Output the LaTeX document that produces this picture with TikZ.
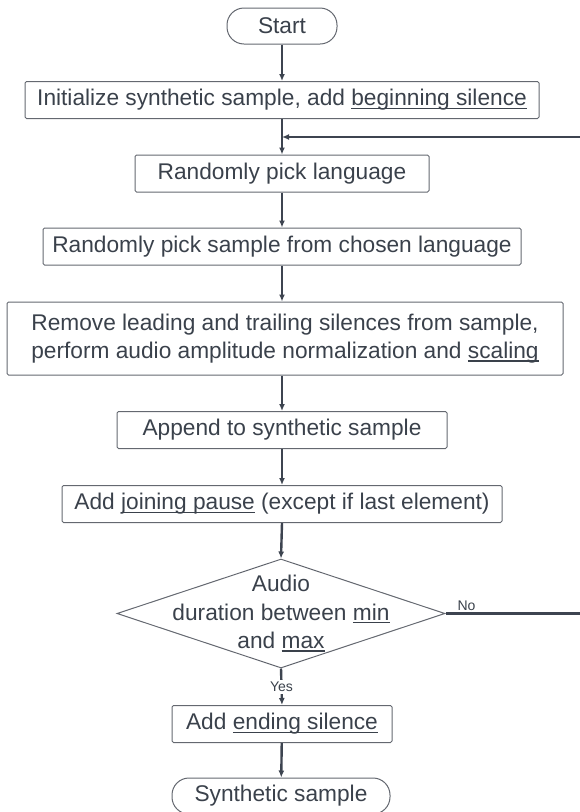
\documentclass[tikz,border=0pt]{standalone}
\usepackage{fontspec}
\setmainfont{Liberation Sans}
\usepackage{xcolor}
\usetikzlibrary{arrows.meta, positioning, calc, shapes.geometric}

\definecolor{inkText}{HTML}{3A414B}
\definecolor{inkLine}{HTML}{3D4450}
\definecolor{inkFrame}{HTML}{646870}

% underline that sits just below the baseline
\newcommand{\undl}[1]{\setbox0\hbox{#1}\rlap{\color{inkText}\rule[-3pt]{\wd0}{1.3pt}}\box0\relax}

\begin{document}
\begin{tikzpicture}[
  x=1pt, y=-1pt,
  box/.style={
    rectangle,
    rounded corners=1.5pt,
    draw=inkFrame,
    line width=1pt,
    align=center,
    inner sep=0pt,
    minimum height=37pt,
    text=inkText,
    font=\fontsize{22.7}{28.5}\selectfont
  },
  term/.style={
    box,
    rounded corners=17pt,
    minimum height=36pt
  },
  decision/.style={
    diamond,
    draw=inkFrame,
    line width=1pt,
    inner sep=0pt
  },
  lbl/.style={
    text=inkText,
    inner sep=2pt,
    font=\fontsize{14}{16}\selectfont
  },
  arrow/.style={
    -{Latex[length=7pt,width=6pt]},
    draw=inkLine,
    line width=2.4pt
  }
]
\useasboundingbox (0,0) rectangle (579,812);

% =========================================================
% Main column
% =========================================================
\node[term, minimum width=110pt] (start) at (282,26) {Start};

\node[box, minimum width=514pt] (init) at (282,100)
  {Initialize synthetic sample, add \undl{beginning silence}};

\node[box, minimum width=294pt] (lang) at (282,173.5) {Randomly pick language};

\node[box, minimum width=478pt] (pick) at (282,246.5) {Randomly pick sample from chosen language};

\node[box, minimum width=556pt, minimum height=73pt] (clean) at (285,338.5)
  {Remove leading and trailing silences from sample,\\
   perform audio amplitude normalization and \undl{scaling}};

\node[box, minimum width=330pt] (append) at (282,430) {Append to synthetic sample};

\node[box, minimum width=440pt] (pause) at (282,504) {Add \undl{joining pause} (except if last element)};

\node[decision, minimum width=328pt, minimum height=109pt] (check) at (281,613.5) {};
\node[box, draw=none] (checktext) at (check) {Audio\\duration between \undl{min}\\and \undl{max}};

\node[box, minimum width=220pt] (ending) at (282,724) {Add \undl{ending silence}};

\node[term, minimum width=218pt] (done) at (281,796) {Synthetic sample};

\draw[arrow] (start) -- (init);
\draw[arrow] (init) -- (lang);
\draw[arrow] (lang) -- (pick);
\draw[arrow] (pick) -- (pick |- clean.north);
\draw[arrow] (clean.south -| append) -- (append);
\draw[arrow] (append) -- (pause);
\draw[arrow] (pause.south) -- (check.north);
\draw[arrow] (check.south) -- node[lbl, fill=white] {Yes} (ending.north);
\draw[arrow] (ending) -- (done);

% =========================================================
% Loop back when duration is not reached
% =========================================================
\coordinate (merge) at (282,137);
\coordinate (rim) at (586,137);

\draw[arrow] (check.east) -- node[lbl, above, pos=0.15] {No} (check.east -| rim)
  -- (rim) -- (merge);

\end{tikzpicture}
\end{document}
